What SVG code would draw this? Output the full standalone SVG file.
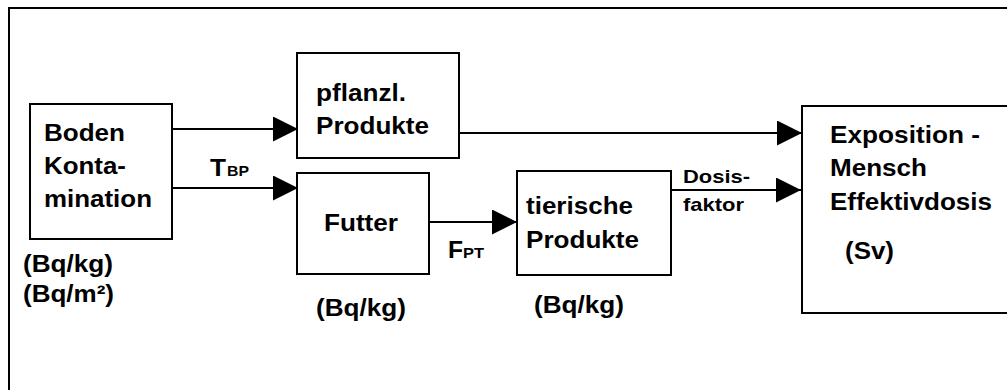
<svg xmlns="http://www.w3.org/2000/svg" width="1007" height="390" viewBox="0 0 1007 390">
<defs>
<style>
.box{fill:#fff;stroke:#000;stroke-width:2}
.frame{fill:#fff;stroke:#000;stroke-width:2}
.t{font-family:"Liberation Sans",Arial,sans-serif;font-weight:bold;font-size:23.5px;fill:#000}
.s{font-family:"Liberation Sans",Arial,sans-serif;font-weight:bold;font-size:19px;fill:#000}
.sub{font-family:"Liberation Sans",Arial,sans-serif;font-weight:bold;font-size:14px;fill:#000}
.c{stroke:#000;stroke-width:2;fill:none;marker-end:url(#ah)}
</style>
<marker id="ah" markerUnits="userSpaceOnUse" markerWidth="26" markerHeight="26" refX="25" refY="12.5" orient="auto" viewBox="0 0 26 26">
<path d="M0,0 L25,12.5 L0,25 Z" fill="#000"/>
</marker>
</defs>
<rect class="frame" x="9" y="8" width="1010" height="400"/>
<g id="connectors">
<line class="c" x1="172" y1="129" x2="298" y2="129"/>
<line class="c" x1="172" y1="188" x2="298" y2="188"/>
<line class="c" x1="459" y1="133" x2="802" y2="133"/>
<line class="c" x1="427" y1="222" x2="517" y2="222"/>
<line class="c" x1="671" y1="190" x2="801" y2="190"/>
<text class="t" x="210" y="176" textLength="16" lengthAdjust="spacingAndGlyphs">T</text>
<text class="sub" x="227" y="176" textLength="22" lengthAdjust="spacingAndGlyphs">BP</text>
<text class="t" x="448" y="258" textLength="15" lengthAdjust="spacingAndGlyphs">F</text>
<text class="sub" x="463" y="258" textLength="21" lengthAdjust="spacingAndGlyphs">PT</text>
<text class="s" x="683" y="183" textLength="67" lengthAdjust="spacingAndGlyphs">Dosis-</text>
<text class="s" x="683" y="211" textLength="61" lengthAdjust="spacingAndGlyphs">faktor</text>
</g>
<g id="boden">
<rect class="box" x="30" y="104" width="142" height="135"/>
<text class="t" x="44" y="141" textLength="81" lengthAdjust="spacingAndGlyphs">Boden</text>
<text class="t" x="44" y="174" textLength="82" lengthAdjust="spacingAndGlyphs">Konta-</text>
<text class="t" x="44" y="207" textLength="108" lengthAdjust="spacingAndGlyphs">mination</text>
<text class="t" x="23" y="272" textLength="90" lengthAdjust="spacingAndGlyphs">(Bq/kg)</text>
<text class="t" x="23" y="302" textLength="91" lengthAdjust="spacingAndGlyphs">(Bq/m²)</text>
</g>
<g id="pflanzl">
<rect class="box" x="297" y="53" width="162" height="105"/>
<text class="t" x="316" y="101" textLength="90" lengthAdjust="spacingAndGlyphs">pflanzl.</text>
<text class="t" x="316" y="134" textLength="113" lengthAdjust="spacingAndGlyphs">Produkte</text>
</g>
<g id="futter">
<rect class="box" x="297" y="173" width="132" height="101"/>
<text class="t" x="324" y="231" textLength="74" lengthAdjust="spacingAndGlyphs">Futter</text>
<text class="t" x="316" y="316" textLength="90" lengthAdjust="spacingAndGlyphs">(Bq/kg)</text>
</g>
<g id="tierisch">
<rect class="box" x="517" y="171" width="154" height="104"/>
<text class="t" x="526" y="214" textLength="107" lengthAdjust="spacingAndGlyphs">tierische</text>
<text class="t" x="526" y="248" textLength="113" lengthAdjust="spacingAndGlyphs">Produkte</text>
<text class="t" x="534" y="313" textLength="90" lengthAdjust="spacingAndGlyphs">(Bq/kg)</text>
</g>
<g id="exposition">
<rect class="box" x="802" y="106" width="220" height="207"/>
<text class="t" x="830" y="143" textLength="150" lengthAdjust="spacingAndGlyphs">Exposition -</text>
<text class="t" x="830" y="176" textLength="97" lengthAdjust="spacingAndGlyphs">Mensch</text>
<text class="t" x="830" y="210" textLength="162" lengthAdjust="spacingAndGlyphs">Effektivdosis</text>
<text class="t" x="845" y="259" textLength="49" lengthAdjust="spacingAndGlyphs">(Sv)</text>
</g>
</svg>
